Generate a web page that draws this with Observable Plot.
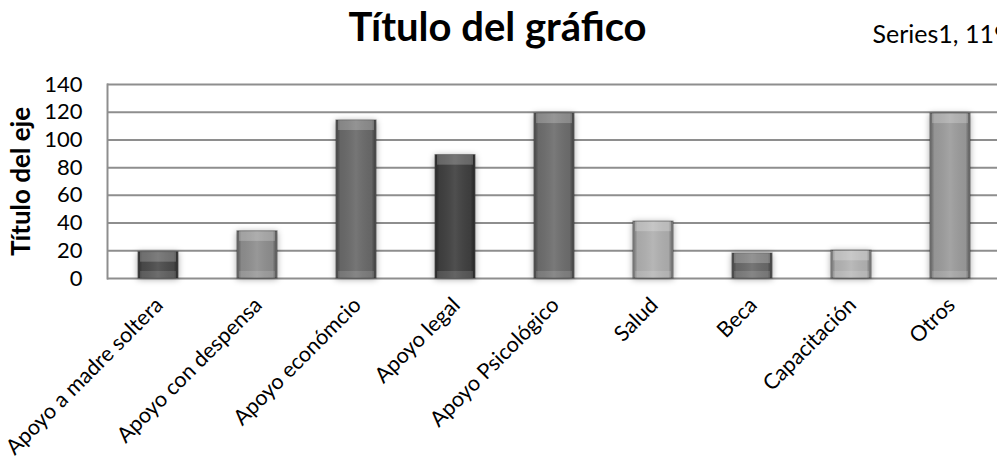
<!DOCTYPE html>
<html>
<head>
<meta charset="utf-8">
<script src="https://cdn.jsdelivr.net/npm/d3@7"></script>
<script src="https://cdn.jsdelivr.net/npm/@observablehq/plot@0.6"></script>
<style>
  html, body { margin: 0; padding: 0; background: #fff; overflow: hidden; }
  #chart svg { display: block; font-family: Lato, "Open Sans", sans-serif; }
</style>
</head>
<body>
<div id="chart"></div>
<script>
const categories = ["Apoyo a madre soltera", "Apoyo con despensa", "Apoyo económcio", "Apoyo legal",
  "Apoyo Psicológico", "Salud", "Beca", "Capacitación", "Otros"];
const values = [19, 34, 114, 89, 119, 41, 18, 20, 119];
const barColors = ["#4b4b4b", "#8f8f8f", "#6a6a6a", "#404040", "#6e6e6e", "#b0b0b0", "#6a6a6a", "#b4b4b4", "#9c9c9c"];
const yTicks = [0, 20, 40, 60, 80, 100, 120, 140];
const chartTitle = "Título del gráfico";
const yTitle = "Título del eje";
const dataLabel = {category: "Otros", value: 119, text: "Series1, 119"};

const data = categories.map((c, i) => ({category: c, value: values[i], color: barColors[i]}));

const plot = Plot.plot({
  width: 997,
  height: 465,
  marginTop: 84,
  marginBottom: 187,
  marginLeft: 107,
  marginRight: 0,
  style: {fontFamily: "Lato, 'Open Sans', sans-serif", color: "#000", background: "#fff"},
  x: {domain: categories, range: [107, 1000], paddingInner: 0.6, paddingOuter: 0.3, axis: null},
  y: {domain: [0, 140], ticks: yTicks, axis: null},
  marks: [
    Plot.gridY(yTicks, {stroke: "#8e8e8e", strokeOpacity: 1, strokeWidth: 2}),
    Plot.frame({anchor: "left", stroke: "#8e8e8e", strokeWidth: 2}),
    Plot.axisY(yTicks, {tickSize: 0, tickPadding: 25, fontSize: 22, fill: "#000", label: null}),
    Plot.text([yTitle], {frameAnchor: "left", textAnchor: "middle", dx: -86, rotate: -90, fontSize: 26, fontWeight: "bold", fill: "#000"}),
    Plot.barY(data, {x: "category", y: "value", fill: "color", stroke: "#3a3a3a", strokeOpacity: 0.55, strokeWidth: 1.2}),
    Plot.barY(data, {x: "category", y: "value", fill: "url(#sheen)", insetLeft: 0.6, insetRight: 0.6}),
    Plot.barY(data, {x: "category", y1: "value", y2: "value", insetBottom: -10, insetLeft: 2, insetRight: 2, fill: "#fff", fillOpacity: 0.22}),
    Plot.barY(data, {x: "category", y1: 0, y2: 0, insetTop: -7, insetLeft: 2, insetRight: 2, fill: "#fff", fillOpacity: 0.12}),
    Plot.text(categories, {x: d => d, y: () => 0, rotate: -45, textAnchor: "end", lineAnchor: "middle", dx: 1, dy: 23, fontSize: 21.5, fill: "#000"}),
    Plot.text([dataLabel], {x: "category", y: "value", text: "text", textAnchor: "start", dx: -78, dy: -79, fontSize: 25, fill: "#000"}),
    Plot.text([chartTitle], {frameAnchor: "top", dx: -55, dy: -72, fontSize: 40, fontWeight: "bold", fill: "#000"})
  ]
});

// gradient used as a sheen over the bars
const ns = "http://www.w3.org/2000/svg";
const defs = document.createElementNS(ns, "defs");
defs.innerHTML = `
<linearGradient id="sheen" x1="0" x2="1" y1="0" y2="0">
  <stop offset="0" stop-color="#000" stop-opacity="0.35"/>
  <stop offset="0.1" stop-color="#000" stop-opacity="0.05"/>
  <stop offset="0.5" stop-color="#fff" stop-opacity="0.08"/>
  <stop offset="0.9" stop-color="#000" stop-opacity="0.05"/>
  <stop offset="1" stop-color="#000" stop-opacity="0.4"/>
</linearGradient>`;
plot.insertBefore(defs, plot.firstChild);
const barGroups = plot.querySelectorAll('g[aria-label="bar"]');
if (barGroups[0]) barGroups[0].style.filter = "drop-shadow(0px 1px 3px rgba(0,0,0,0.35))";
document.getElementById("chart").appendChild(plot);
</script>
</body>
</html>
